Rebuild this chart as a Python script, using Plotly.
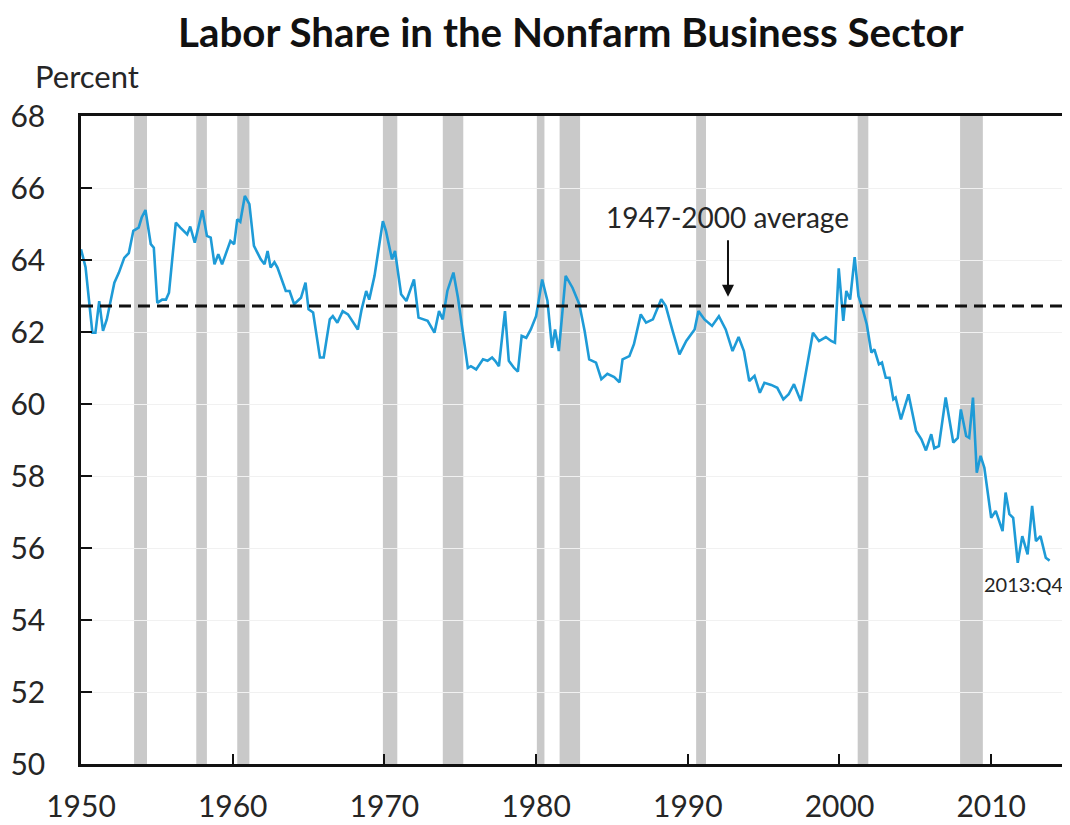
import plotly.graph_objects as go

# Labor share (percent), read at the vertices of the line
years = [1950.0, 1950.3, 1950.75, 1950.95, 1951.2, 1951.45, 1951.7, 1952.2, 1952.5, 1952.85,
         1953.15, 1953.45, 1953.8, 1954.0, 1954.25, 1954.6, 1954.8, 1955.03, 1955.35, 1955.6,
         1955.8, 1956.25, 1956.55, 1957.0, 1957.2, 1957.5, 1958.0, 1958.3, 1958.55, 1958.8,
         1959.05, 1959.3, 1959.85, 1960.1, 1960.3, 1960.5, 1960.8, 1961.1, 1961.4, 1961.85,
         1962.1, 1962.3, 1962.5, 1962.75, 1962.95, 1963.5, 1963.75, 1964.05, 1964.5, 1964.8,
         1965.0, 1965.3, 1965.75, 1966.0, 1966.4, 1966.6, 1966.9, 1967.25, 1967.6, 1968.25,
         1968.5, 1968.8, 1969.0, 1969.35, 1969.9, 1970.1, 1970.5, 1970.7, 1971.1, 1971.45,
         1971.95, 1972.25, 1972.85, 1973.3, 1973.6, 1973.85, 1974.15, 1974.55, 1974.85, 1975.5,
         1975.7, 1976.05, 1976.5, 1976.8, 1977.1, 1977.3, 1977.55, 1977.95, 1978.2, 1978.55,
         1978.8, 1979.05, 1979.35, 1979.65, 1980.0, 1980.4, 1980.75, 1981.05, 1981.25, 1981.5,
         1981.95, 1982.4, 1982.85, 1983.2, 1983.5, 1983.95, 1984.3, 1984.7, 1985.15, 1985.5,
         1985.7, 1986.15, 1986.45, 1986.9, 1987.25, 1987.7, 1988.25, 1988.55, 1989.0, 1989.45,
         1989.9, 1990.45, 1990.7, 1991.1, 1991.6, 1992.05, 1992.5, 1992.95, 1993.35, 1993.7,
         1994.05, 1994.4, 1994.75, 1995.05, 1995.5, 1995.9, 1996.3, 1996.65, 1997.0, 1997.45,
         1998.25, 1998.65, 1999.1, 1999.45, 1999.7, 1999.95, 2000.25, 2000.45, 2000.7, 2001.0,
         2001.25, 2001.5, 2001.8, 2002.1, 2002.3, 2002.6, 2002.8, 2003.05, 2003.3, 2003.55,
         2003.7, 2004.05, 2004.55, 2005.05, 2005.4, 2005.7, 2006.05, 2006.25, 2006.55, 2007.0,
         2007.5, 2007.8, 2008.0, 2008.35, 2008.55, 2008.8, 2009.05, 2009.3, 2009.55, 2010.0,
         2010.3, 2010.75, 2010.95, 2011.2, 2011.45, 2011.75, 2012.05, 2012.4, 2012.7, 2012.95,
         2013.25, 2013.6, 2013.85]
labor_share = [64.3, 63.8, 61.98, 61.98, 62.86, 62.03, 62.35, 63.37, 63.65, 64.06,
               64.19, 64.81, 64.9, 65.18, 65.39, 64.44, 64.34, 62.81, 62.9, 62.9,
               63.09, 65.04, 64.9, 64.71, 64.93, 64.48, 65.38, 64.67, 64.62, 63.88,
               64.16, 63.88, 64.53, 64.44, 65.13, 65.06, 65.78, 65.55, 64.39, 64.02,
               63.88, 64.25, 63.79, 63.94, 63.79, 63.14, 63.14, 62.77, 62.95, 63.37,
               62.63, 62.54, 61.29, 61.29, 62.35, 62.44, 62.26, 62.58, 62.49, 62.07,
               62.63, 63.14, 62.9, 63.56, 65.08, 64.81, 64.02, 64.25, 63.05, 62.86,
               63.46, 62.4, 62.31, 61.98, 62.58, 62.35, 63.14, 63.65, 62.95, 61.0,
               61.05, 60.96, 61.24, 61.2, 61.29, 61.2, 61.05, 62.58, 61.2, 61.0,
               60.9, 61.89, 61.84, 62.07, 62.44, 63.46, 62.86, 61.56, 62.07, 61.47,
               63.56, 63.23, 62.77, 62.03, 61.24, 61.15, 60.69, 60.84, 60.75, 60.6,
               61.24, 61.33, 61.66, 62.49, 62.26, 62.35, 62.91, 62.72, 62.03, 61.38,
               61.75, 62.07, 62.58, 62.35, 62.17, 62.44, 62.07, 61.47, 61.86, 61.47,
               60.64, 60.78, 60.31, 60.59, 60.53, 60.45, 60.13, 60.27, 60.55, 60.08,
               61.98, 61.75, 61.86, 61.75, 61.7, 63.77, 62.31, 63.14, 62.9, 64.08,
               63.0, 62.68, 62.21, 61.43, 61.52, 61.1, 61.15, 60.73, 60.73, 60.13,
               60.18, 59.57, 60.27, 59.25, 59.02, 58.71, 59.16, 58.77, 58.83, 60.18,
               58.93, 59.06, 59.85, 59.11, 59.06, 60.18, 58.09, 58.56, 58.23, 56.84,
               57.03, 56.47, 57.54, 56.94, 56.84, 55.59, 56.33, 55.82, 57.17, 56.19,
               56.33, 55.73, 55.65]

# NBER recessions (start, end) in decimal years
recession_start = [1953.5, 1957.6, 1960.3, 1969.9, 1973.85, 1980.05, 1981.55, 1990.55, 2001.2, 2007.95]
recession_end   = [1954.35, 1958.3, 1961.1, 1970.85, 1975.2, 1980.55, 1982.9, 1991.2, 2001.9, 2009.45]

average_1947_2000 = 62.72
y_ticks = [50, 52, 54, 56, 58, 60, 62, 64, 66, 68]
x_ticks = [1950, 1960, 1970, 1980, 1990, 2000, 2010]

FONT = "Lato, 'Open Sans', sans-serif"

fig = go.Figure()

shapes = []
for s, e in zip(recession_start, recession_end):
    shapes.append(dict(type="rect", xref="x", yref="y", x0=s, x1=e, y0=50, y1=68,
                       fillcolor="#c9c9c9", line=dict(width=0), layer="below"))
shapes.append(dict(type="line", xref="paper", yref="y", x0=0, x1=1,
                   y0=average_1947_2000, y1=average_1947_2000,
                   line=dict(color="#111111", width=3, dash="12px,7px")))

fig.add_trace(go.Scatter(x=years, y=labor_share, mode="lines",
                         line=dict(color="#1e9bd7", width=2.6), hoverinfo="x+y",
                         showlegend=False))

# figure sized to reach the window's right/bottom edges given the page's body margin
fig.update_layout(
    width=1062, height=817,
    margin=dict(l=73, r=6, t=108, b=61),
    paper_bgcolor="white", plot_bgcolor="white",
    font=dict(family=FONT, color="#262626"),
    shapes=shapes,
    showlegend=False,
    xaxis=dict(range=[1950, 2014.8], tickvals=x_ticks, ticks="inside", ticklen=10,
               tickwidth=2, tickcolor="#111111", showline=True, linecolor="#111111",
               linewidth=2.5, mirror=True, showgrid=False, zeroline=False,
               tickfont=dict(size=30, family=FONT, color="#262626"),
               ticklabelstandoff=14, automargin=False),
    yaxis=dict(range=[50, 68], tickvals=y_ticks, ticks="inside", ticklen=11,
               tickwidth=2, tickcolor="#111111", showline=True, linecolor="#111111",
               linewidth=2.5, showgrid=True, gridcolor="#f1f1f1", gridwidth=1,
               zeroline=False, tickfont=dict(size=30, family=FONT, color="#262626"),
               ticklabelstandoff=27, automargin=False),
    annotations=[
        dict(text="<b>Labor Share in the Nonfarm Business Sector</b>", xref="paper",
             yref="paper", x=0.498, y=1.0, yshift=85, xanchor="center", yanchor="middle",
             showarrow=False, font=dict(size=40.3, family=FONT, color="#111111")),
        dict(text="Percent", xref="paper", yref="paper", x=0, xshift=-48, y=1.0, yshift=40,
             xanchor="left", yanchor="middle", showarrow=False,
             font=dict(size=31, family=FONT, color="#262626")),
        dict(text="1947-2000 average", xref="x", yref="y", x=1992.65, y=65.2,
             xanchor="center", yanchor="middle", showarrow=False,
             font=dict(size=28, family=FONT, color="#262626")),
        dict(text="", xref="x", yref="y", x=1992.65, y=62.98, ax=0, ay=-58,
             showarrow=True, arrowhead=2, arrowsize=1.2, arrowwidth=2, arrowcolor="#111111"),
        dict(text="2013:Q4", xref="x", yref="y", x=2012.1, y=55.0,
             xanchor="center", yanchor="middle", showarrow=False,
             font=dict(size=20, family=FONT, color="#262626")),
    ],
)

fig.write_html("out.html")
